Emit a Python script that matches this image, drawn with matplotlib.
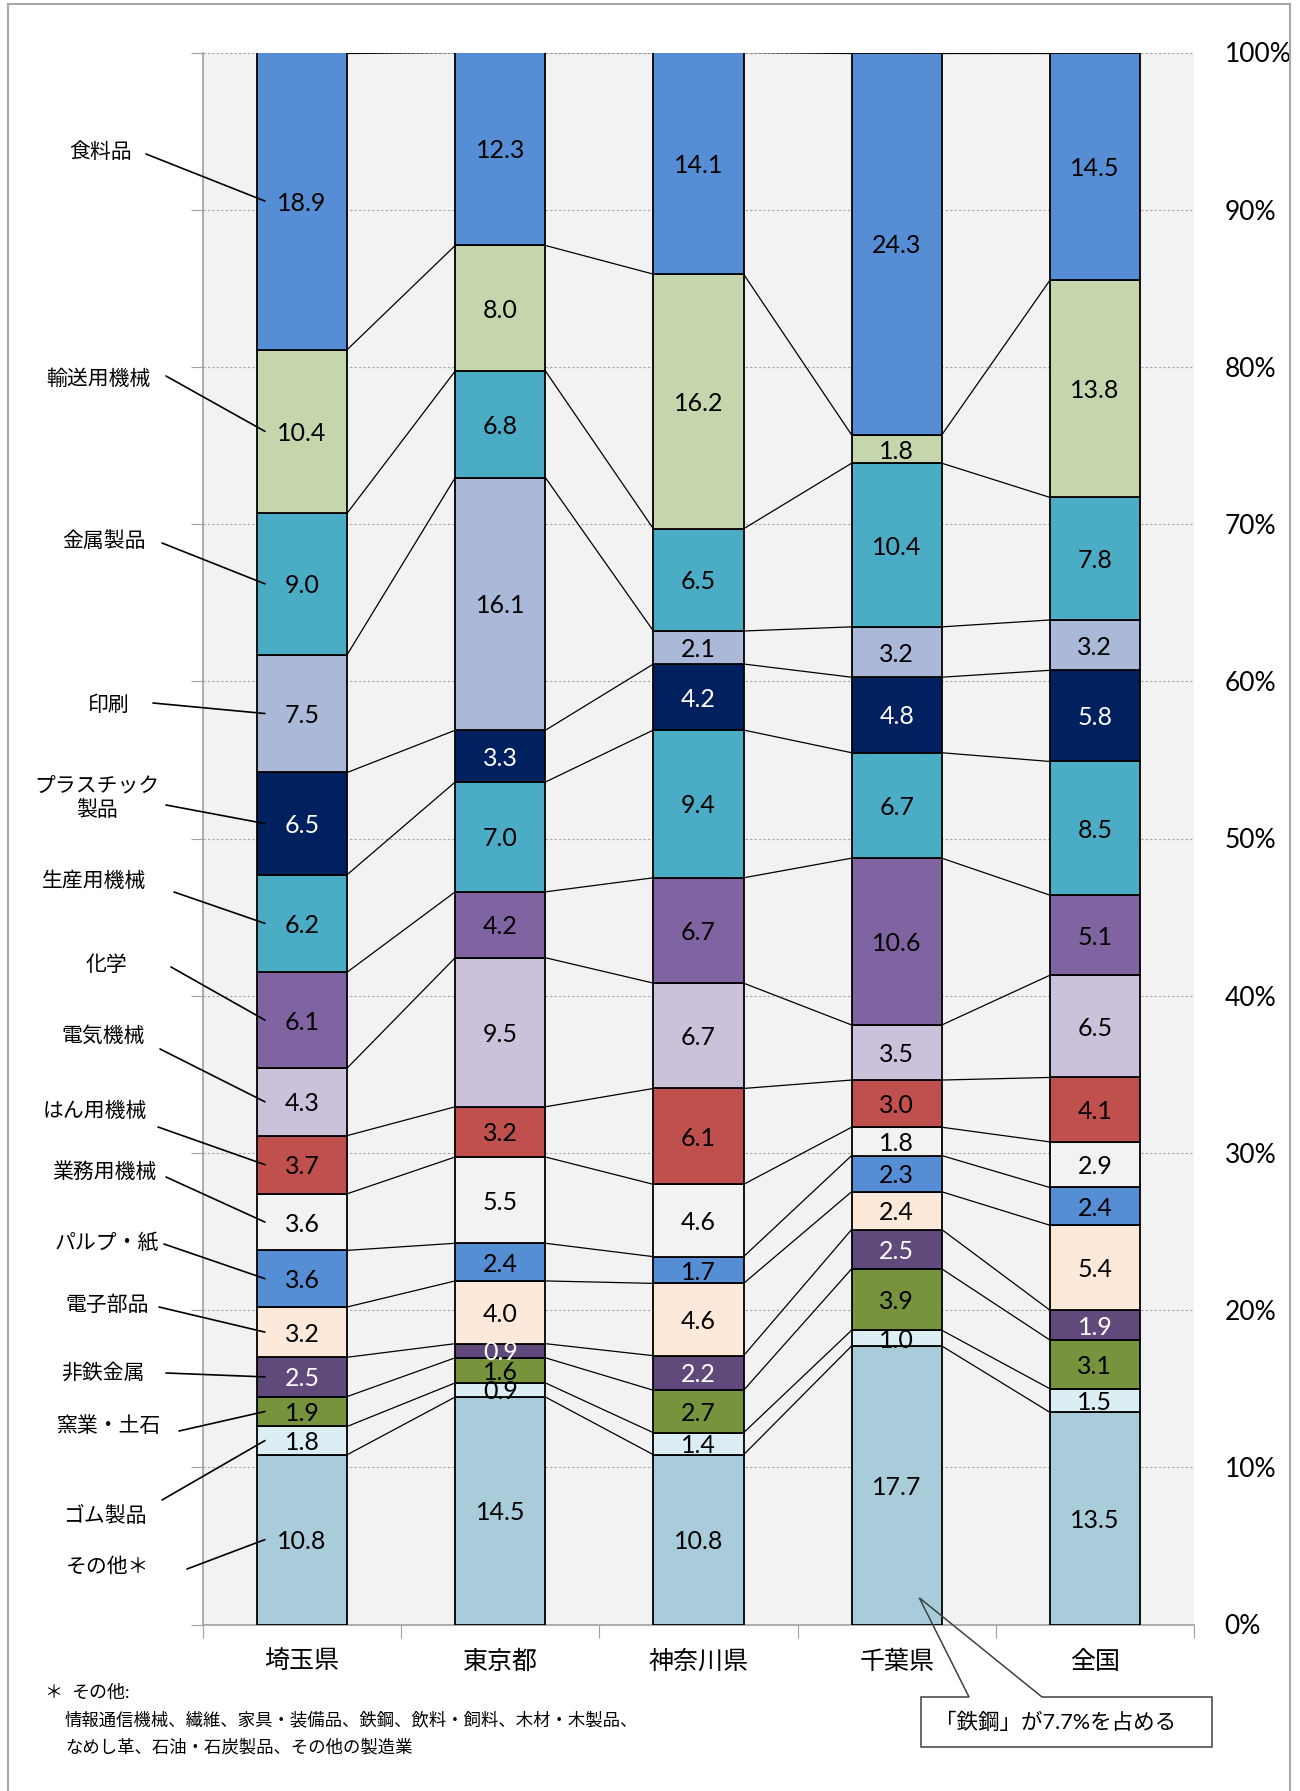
import numpy as np
import matplotlib
matplotlib.use('Agg')
import matplotlib.pyplot as plt
from matplotlib.patches import Rectangle, Polygon

plt.rcParams['font.family'] = ['Lato', 'Noto Sans CJK JP', 'DejaVu Sans']

regions = ['埼玉県', '東京都', '神奈川県', '千葉県', '全国']

# industries, from the bottom of the stack to the top
industries = ['その他＊', 'ゴム製品', '窯業・土石', '非鉄金属', '電子部品', 'パルプ・紙',
              '業務用機械', 'はん用機械', '電気機械', '化学', '生産用機械',
              'プラスチック\n製品', '印刷', '金属製品', '輸送用機械', '食料品']

saitama = [10.8, 1.8, 1.9, 2.5, 3.2, 3.6, 3.6, 3.7, 4.3, 6.1, 6.2, 6.5, 7.5, 9.0, 10.4, 18.9]
tokyo = [14.5, 0.9, 1.6, 0.9, 4.0, 2.4, 5.5, 3.2, 9.5, 4.2, 7.0, 3.3, 16.1, 6.8, 8.0, 12.3]
kanagawa = [10.8, 1.4, 2.7, 2.2, 4.6, 1.7, 4.6, 6.1, 6.7, 6.7, 9.4, 4.2, 2.1, 6.5, 16.2, 14.1]
chiba = [17.7, 1.0, 3.9, 2.5, 2.4, 2.3, 1.8, 3.0, 3.5, 10.6, 6.7, 4.8, 3.2, 10.4, 1.8, 24.3]
zenkoku = [13.5, 1.5, 3.1, 1.9, 5.4, 2.4, 2.9, 4.1, 6.5, 5.1, 8.5, 5.8, 3.2, 7.8, 13.8, 14.5]

colors = ['#A9CCDB', '#DAEEF3', '#77933C', '#604A7B', '#FDE9D9', '#558ED5',
          '#F2F2F2', '#C0504D', '#CCC1DA', '#8064A2', '#4BACC6',
          '#002060', '#AAB9D7', '#4BACC6', '#C6D6AC', '#558ED5']
white_text = ['非鉄金属', 'プラスチック\n製品']

# left-hand labels: text centre and leader start, in pixels from the top-left
label_xy = [(108, 1567), (105, 1516), (109, 1426), (103, 1373), (107, 1305), (107, 1243),
            (104, 1172), (95, 1111), (103, 1036), (106, 965), (94, 881),
            (97, 798), (109, 705), (104, 541), (98, 379), (101, 152)]
leader_xy = [(187, 1569), (162, 1500), (179, 1431), (166, 1373), (159, 1307), (164, 1244),
             (166, 1177), (158, 1127), (160, 1049), (171, 967), (174, 892),
             (166, 805), (153, 703), (162, 543), (166, 376), (146, 154)]

W, H = 1300, 1791
fig = plt.figure(figsize=(W / 100, H / 100), dpi=100)
ax = fig.add_axes([203 / W, 1 - 1624.5 / H, 991 / W, 1572 / H])
ax.set_facecolor('#F2F2F2')

raw = np.array([saitama, tokyo, kanagawa, chiba, zenkoku])
shares = raw / raw.sum(axis=1, keepdims=True) * 100

x = np.arange(len(regions))
w = 0.455
bottom = np.zeros(len(regions))
mids_saitama = []
for j, name in enumerate(industries):
    vals = shares[:, j]
    ax.bar(x, vals, w, bottom=bottom, color=colors[j], edgecolor='black',
           linewidth=1.3, zorder=3)
    tc = 'white' if name in white_text else 'black'
    for i in range(len(regions)):
        ax.text(x[i], bottom[i] + vals[i] / 2, f'{raw[i, j]:.1f}', ha='center',
                va='center_baseline', fontsize=18, color=tc, zorder=4)
    mids_saitama.append(bottom[0] + vals[0] / 2)
    bottom = bottom + vals
    # series lines between neighbouring bars
    for i in range(len(regions) - 1):
        ax.plot([x[i] + w / 2, x[i + 1] - w / 2], [bottom[i], bottom[i + 1]],
                color='black', lw=0.9, zorder=2)

ax.set_xlim(-0.5, len(regions) - 0.5)
ax.set_ylim(0, 100)
ax.set_yticks(np.arange(0, 101, 10))
ax.yaxis.set_major_formatter(lambda v, p: f'{int(v)}%')
ax.yaxis.grid(True, linestyle=(0, (2, 2)), color='#A6A6A6', lw=0.8)
ax.set_axisbelow(True)
ax.tick_params(axis='y', left=True, right=False, labelleft=False, labelright=True,
               length=9, color='#A0A0A0', labelsize=19, pad=13)

ax.set_xticks(np.arange(-0.5, len(regions), 1))
ax.set_xticklabels([])
ax.set_xticks(x, minor=True)
ax.set_xticklabels(regions, minor=True, fontsize=18)
ax.tick_params(axis='x', which='major', length=9, color='#A0A0A0')
ax.tick_params(axis='x', which='minor', length=0, pad=18)

for s in ['top', 'right']:
    ax.spines[s].set_visible(False)
for s in ['left', 'bottom']:
    ax.spines[s].set_color('#A0A0A0')
    ax.spines[s].set_linewidth(1.2)

# left-hand category labels with leader lines into the Saitama bar
for j, name in enumerate(industries):
    tx, ty = label_xy[j]
    fig.text(tx / W, 1 - ty / H, name, ha='center', va='center', fontsize=15,
             linespacing=1.3)
    lx, ly = leader_xy[j]
    ax.annotate('', xy=(x[0] - w / 2 + 0.04, mids_saitama[j]), xycoords='data',
                xytext=(lx, H - ly), textcoords='figure pixels',
                arrowprops=dict(arrowstyle='-', color='black', lw=1.2,
                                shrinkA=0, shrinkB=0),
                annotation_clip=False, zorder=5)

# callout pointing into the Chiba bar
tip = ax.transData.transform((x[3] + w * 0.25, 1.7))
bx0, bx1, by0, by1 = 921, 1212, H - 1747, H - 1697
fig.add_artist(Rectangle((bx0 / W, by0 / H), (bx1 - bx0) / W, (by1 - by0) / H,
                         transform=fig.transFigure, facecolor='white',
                         edgecolor='none', zorder=6))
outline = [(bx0, by1), (969, by1), (tip[0], tip[1]), (1042, by1), (bx1, by1),
           (bx1, by0), (bx0, by0)]
fig.add_artist(Polygon([(px / W, py / H) for px, py in outline], closed=True,
                       transform=fig.transFigure, facecolor='none',
                       edgecolor='#404040', lw=1.1, zorder=7))
fig.text(935 / W, 1 - 1723 / H, '「鉄鋼」が7.7%を占める', ha='left', va='center',
         fontsize=15.5, zorder=8)

# footnote
fig.text(44 / W, 1 - 1693 / H, '＊', ha='left', va='center', fontsize=13)
fig.text(71 / W, 1 - 1693 / H, 'その他:', ha='left', va='center', fontsize=13)
fig.text(65 / W, 1 - 1720 / H, '情報通信機械、繊維、家具・装備品、鉄鋼、飲料・飼料、木材・木製品、',
         ha='left', va='center', fontsize=12.5)
fig.text(65 / W, 1 - 1747 / H, 'なめし革、石油・石炭製品、その他の製造業',
         ha='left', va='center', fontsize=12.5)

# outer frame
fig.add_artist(Rectangle((8 / W, -0.01), (1290 - 8) / W, 1.01 - 4 / H,
                         transform=fig.transFigure, facecolor='none',
                         edgecolor='#A6A6A6', lw=1.5))

fig.savefig('out.png', dpi=100)
